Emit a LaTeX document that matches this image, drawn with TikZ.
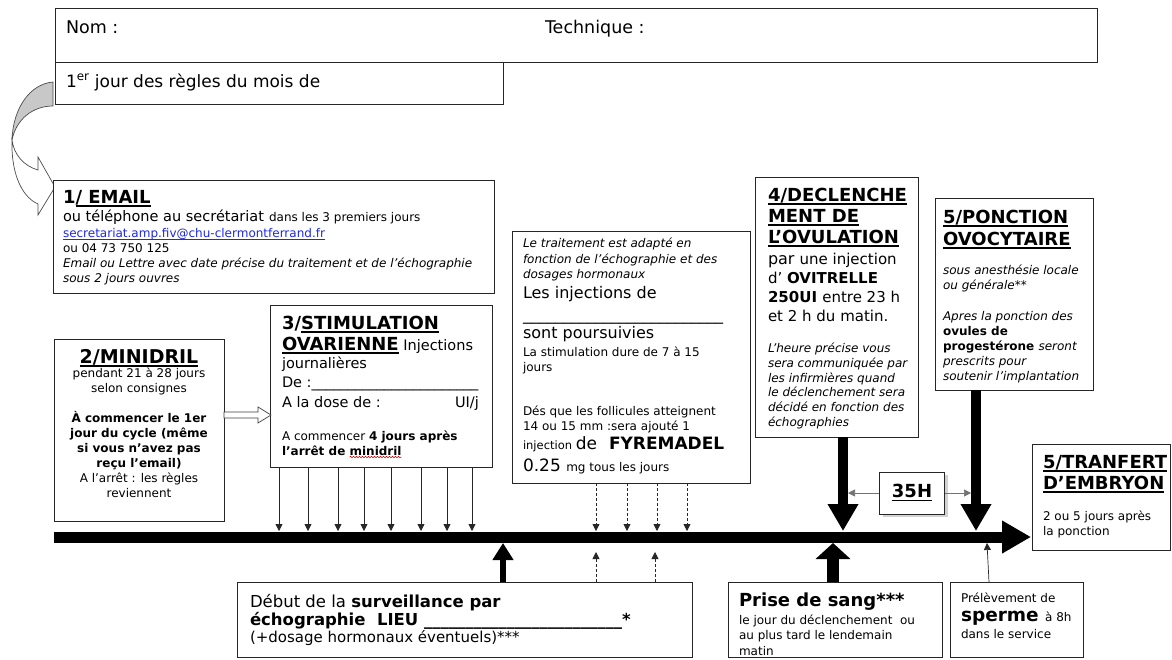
\documentclass[tikz,border=0pt]{standalone}
\usepackage{fontspec}
\setmainfont{DejaVu Sans}
\usetikzlibrary{arrows.meta,decorations.pathmorphing,shadows}
\definecolor{linkblue}{RGB}{30,40,230}
\definecolor{shgray}{RGB}{200,200,200}
\newcommand\fsz[1]{\fontsize{#1}{#1}\selectfont}
\newcommand\tul[1]{\setbox0\hbox{#1}\leavevmode\rlap{\vrule height -2pt depth 3.5pt width \wd0}\box0}
\newcommand\lul[1]{\setbox0\hbox{#1}\leavevmode\rlap{\vrule height -1.6pt depth 2.3pt width \wd0}\box0}
\begin{document}
\begin{tikzpicture}[x=1pt,y=-1pt,
  bx/.style={draw=black!85, line width=0.9pt, fill=white, inner sep=0pt, outer sep=0pt, anchor=north west},
  txt/.style={anchor=base west, inner sep=0pt, outer sep=0pt},
  txtc/.style={anchor=base, inner sep=0pt, outer sep=0pt},
  thinarr/.style={draw=black!85, line width=0.8pt, -{Triangle[length=7pt,width=7pt]}},
  dasharr/.style={thinarr, dash pattern=on 3pt off 2pt},
]
\useasboundingbox (0,0) rectangle (1172,659);
\fill[white] (0,0) rectangle (1172,659);

% ---------- top boxes
\node[bx, minimum width=1042pt, minimum height=54pt] (bTop) at (55,8) {};
\node[txt] (tNom) at (66,33) {\fsz{17.5}Nom :};
\node[txt] (tTech) at (545,33) {\fsz{17.5}Technique :};
\node[bx, minimum width=448pt, minimum height=42pt] (bJour) at (55,62) {};
\node[txt] (tJour) at (66,87) {\fsz{17}1\textsuperscript{er} jour des règles du mois de};

% ---------- curved arrow
\fill[shgray] (53,82) .. controls (30,84) and (13,108) .. (12,140)
  .. controls (16,120) and (32,106) .. (53,106) -- cycle;
\draw[black!70, line width=0.7pt] (53,82) .. controls (30,84) and (13,108) .. (12,140)
  .. controls (16,120) and (32,106) .. (53,106) -- cycle;
\draw[black!70, line width=0.7pt, fill=white]
  (12,140) .. controls (14,155) and (24,166) .. (38,170)
  -- (38,157) -- (55,187) -- (38,215) -- (38,204)
  .. controls (20,196) and (11,170) .. (12,140) -- cycle;

% ---------- 1/ EMAIL
\node[bx, minimum width=441pt, minimum height=113pt] (bEmail) at (53,180) {};
\node[txt] (e1) at (63,203) {\fsz{18}\bfseries 1\tul{/ EMAIL}};
\node[txt] (e2) at (63,221) {\fsz{14.5}ou téléphone au secrétariat\hspace{5pt}\fsz{12}dans les 3 premiers jours};
\node[txt] (e3) at (63,237) {\fsz{12}\color{linkblue}\lul{secretariat.amp.fiv@chu-clermontferrand.fr}};
\node[txt] (e4) at (63,252) {\fsz{12}ou 04 73 750 125};
\node[txt] (e5) at (63,267) {\fsz{12}\itshape Email ou Lettre avec date précise du traitement et de l’échographie};
\node[txt] (e6) at (63,282) {\fsz{12}\itshape sous 2 jours ouvres};

% ---------- 2/MINIDRIL
\node[bx, minimum width=170pt, minimum height=182pt] (bMini) at (54,339) {};
\node[txtc] (m1) at (139,363) {\fsz{19}\bfseries\tul{2/MINIDRIL}};
\node[txtc] (m2) at (139,377) {\fsz{12}pendant 21 à 28 jours};
\node[txtc] (m3) at (139,392) {\fsz{12}selon consignes};
\node[txtc] (m4) at (139,422) {\fsz{12}\bfseries À commencer le 1er};
\node[txtc] (m5) at (139,437) {\fsz{12}\bfseries jour du cycle (même};
\node[txtc] (m6) at (139,452) {\fsz{12}\bfseries si vous n’avez pas};
\node[txtc] (m7) at (139,467) {\fsz{12}\bfseries reçu l’email)};
\node[txtc] (m8) at (139,482) {\fsz{12}A l’arrêt : les règles};
\node[txtc] (m9) at (139,497) {\fsz{12}reviennent};

% ---------- 3/STIMULATION
\node[bx, minimum width=222pt, minimum height=162pt] (bStim) at (270,305) {};
\node[txt] (s1) at (282,329) {\fsz{18}\bfseries 3/\tul{STIMULATION}};
\node[txt] (s2) at (282,350) {\fsz{18}\bfseries\tul{OVARIENNE}\mdseries\fsz{14.5} Injections};
\node[txt] (s3) at (282,368) {\fsz{14.5}journalières};
\node[txt] (s4) at (282,387) {\fsz{14.5}De :\_\_\_\_\_\_\_\_\_\_\_\_\_\_\_\_\_\_\_\_\_\_\_};
\node[txt] (s5) at (282,407) {\fsz{14.5}A la dose de :};
\node[anchor=base east, inner sep=0pt] (s5b) at (479,407) {\fsz{14.5}UI/j};
\node[txt] (s6) at (282,440) {\fsz{12}A commencer \bfseries 4 jours après};
\node[txt] (s7) at (282,455) {\fsz{12}\bfseries l’arrêt de};
\node[txt] (s7b) at ([xshift=4.2pt]s7.base east) {\fsz{12}\bfseries minidril};
\draw[red!80!black, line width=0.5pt, decorate, decoration={snake, amplitude=0.8pt, segment length=3pt}]
  ([yshift=-2pt]s7b.base west) -- ([yshift=-2pt]s7b.base east);

% open arrow 2 -> 3
\draw[draw=black!75, fill=white, line width=0.7pt] (224,412) -- (258,412) -- (258,407) -- (271,415)
  -- (258,423) -- (258,418) -- (224,418) -- cycle;

% ---------- Treatment box
\node[bx, minimum width=238pt, minimum height=252pt] (bTrait) at (512,231) {};
\node[txt] (r1) at (523,247) {\fsz{12}\itshape Le traitement est adapté en};
\node[txt] (r2) at (523,263) {\fsz{12}\itshape fonction de l’échographie et des};
\node[txt] (r3) at (523,278) {\fsz{12}\itshape dosages hormonaux};
\node[txt] (r4) at (523,298) {\fsz{16}Les injections de};
\node[txt] (r5) at (523,320) {\fsz{16}\_\_\_\_\_\_\_\_\_\_\_\_\_\_\_\_\_\_\_\_\_\_\_\_\_};
\node[txt] (r6) at (523,338) {\fsz{16}sont poursuivies};
\node[txt] (r7) at (523,356) {\fsz{12}La stimulation dure de 7 à 15};
\node[txt] (r8) at (523,371) {\fsz{12}jours};
\node[txt] (r9) at (523,415) {\fsz{12}Dés que les follicules atteignent};
\node[txt] (r10) at (523,430) {\fsz{12}14 ou 15 mm :sera ajouté 1};
\node[txt] (r11) at (523,449) {\fsz{11.5}injection \fsz{17}de\hspace{12pt}\bfseries\fsz{17}FYREMADEL};
\node[txt] (r12) at (523,471) {\fsz{17}0.25 \fsz{12}mg tous les jours};

% ---------- 4/DECLENCHEMENT
\node[bx, minimum width=163pt, minimum height=260pt] (bDecl) at (755,177) {};
\node[txt] (d1) at (768,201) {\fsz{18}\bfseries\tul{4/DECLENCHE}};
\node[txt] (d2) at (768,222) {\fsz{18}\bfseries\tul{MENT DE}};
\node[txt] (d3) at (768,243) {\fsz{18}\bfseries\tul{L’OVULATION}};
\node[txt] (d4) at (768,264) {\fsz{16}par \fsz{15}une injection};
\node[txt] (d5) at (768,283) {\fsz{15}d’ \bfseries OVITRELLE};
\node[txt] (d6) at (768,302) {\fsz{15}\bfseries 250UI \mdseries entre 23 h};
\node[txt] (d7) at (768,321) {\fsz{15}et 2 h du matin.};
\node[txt] (d8) at (768,352) {\fsz{12}\itshape L’heure précise vous};
\node[txt] (d9) at (768,367) {\fsz{12}\itshape sera communiquée par};
\node[txt] (d10) at (768,382) {\fsz{12}\itshape les infirmières quand};
\node[txt] (d11) at (768,396) {\fsz{12}\itshape le déclenchement sera};
\node[txt] (d12) at (768,411) {\fsz{12}\itshape décidé en fonction des};
\node[txt] (d13) at (768,426) {\fsz{12}\itshape échographies};

% ---------- 5/PONCTION
\node[bx, minimum width=158pt, minimum height=192pt] (bPonc) at (935,198) {};
\node[txt] (p1) at (943,223) {\fsz{18}\bfseries\tul{5/PONCTION}};
\node[txt] (p2) at (943,245) {\fsz{18}\bfseries\tul{OVOCYTAIRE}};
\node[txt] (p3) at (943,274) {\fsz{12}\itshape sous anesthésie locale};
\node[txt] (p4) at (943,289) {\fsz{12}\itshape ou générale**};
\node[txt] (p5) at (943,320) {\fsz{12}\itshape Apres la ponction des};
\node[txt] (p6) at (943,335) {\fsz{12}\bfseries ovules de};
\node[txt] (p7) at (943,350) {\fsz{12}\bfseries progestérone \mdseries\itshape seront};
\node[txt] (p8) at (943,365) {\fsz{12}\itshape prescrits pour};
\node[txt] (p9) at (943,380) {\fsz{12}\itshape soutenir l’implantation};

% ---------- 5/TRANFERT
\node[bx, minimum width=138pt, minimum height=106pt] (bTrans) at (1032,444) {};
\node[txt] (f1) at (1043,468) {\fsz{18}\bfseries\tul{5/TRANFERT}};
\node[txt] (f2) at (1043,489) {\fsz{18}\bfseries\tul{D’EMBRYON}};
\node[txt] (f3) at (1043,520) {\fsz{12}2 ou 5 jours après};
\node[txt] (f4) at (1043,535) {\fsz{12}la ponction};

% ---------- bottom boxes
\node[bx, minimum width=455pt, minimum height=75pt] (bSurv) at (237,582) {};
\node[txt] (u1) at (250,607) {\fsz{16.5}Début de la \bfseries surveillance par};
\node[txt] (u2) at (250,625) {\fsz{16.5}\bfseries échographie\ \ LIEU \_\_\_\_\_\_\_\_\_\_\_\_\_\_\_\_\_\_\_\_\_\_\_\_*};
\node[txt] (u3) at (250,642) {\fsz{15}(+dosage hormonaux éventuels)***};

\node[bx, minimum width=214pt, minimum height=75pt] (bSang) at (728,582) {};
\node[txt] (g1) at (739,606) {\fsz{18}\bfseries Prise de sang***};
\node[txt] (g2) at (739,624) {\fsz{12}le jour du déclenchement\ \ ou};
\node[txt] (g3) at (739,639) {\fsz{12}au plus tard le lendemain};
\node[txt] (g4) at (739,655) {\fsz{12}matin};

\node[bx, minimum width=133pt, minimum height=75pt] (bSperm) at (950,582) {};
\node[txt] (h1) at (961,602) {\fsz{12}Prélèvement de};
\node[txt] (h2) at (961,621) {\fsz{18.5}\bfseries sperme \mdseries\fsz{12}à 8h};
\node[txt] (h3) at (961,638) {\fsz{12}dans le service};

% ---------- 35H
\node[draw=black!85, line width=0.9pt, fill=white, minimum width=65pt, minimum height=42pt, inner sep=0pt,
  drop shadow={shadow xshift=3pt, shadow yshift=-3pt, fill=black!35}] (b35) at (912,493) {\fsz{18}\bfseries\tul{35H}};

% ---------- timeline
\coordinate (tlS) at (54,537);
\coordinate (tlE) at (1031,537);
\draw[line width=11pt, -{Triangle[length=29pt,width=31pt]}] (tlS) -- (tlE);

% arrows from stimulation box
\foreach \x in {279,308,338,364,391,421,447,472}
  \draw[thinarr] (\x,0 |- bStim.south) -- (\x,531);
% dashed from treatment
\foreach \x in {596,627,657,687}
  \draw[dasharr] (\x,0 |- bTrait.south) -- (\x,531);
% dashed up
\foreach \x in {596,655}
  \draw[dasharr] (\x,0 |- bSurv.north) -- (\x,552);

% thick arrows
\draw[line width=10pt, -{Triangle[length=27pt,width=29pt]}] (843,0 |- bDecl.south) -- (843,531);
\draw[line width=10pt, -{Triangle[length=27pt,width=29pt]}] (976,0 |- bPonc.south) -- (976,531);
\draw[line width=6pt, -{Triangle[length=17pt,width=20pt]}] (503,0 |- bSurv.north) -- (503,543);
\draw[line width=12pt, -{Triangle[length=16pt,width=34pt]}] (833,0 |- bSang.north) -- (833,543);
\draw[thinarr, line width=0.7pt] (989,0 |- bSperm.north) -- (987,543);

% 35H arrows
\draw[thinarr, draw=black!55, line width=0.7pt] (b35.west) -- (848,0 |- b35.west);
\draw[thinarr, draw=black!55, line width=0.7pt] (b35.east) -- (971,0 |- b35.east);
\end{tikzpicture}
\end{document}
